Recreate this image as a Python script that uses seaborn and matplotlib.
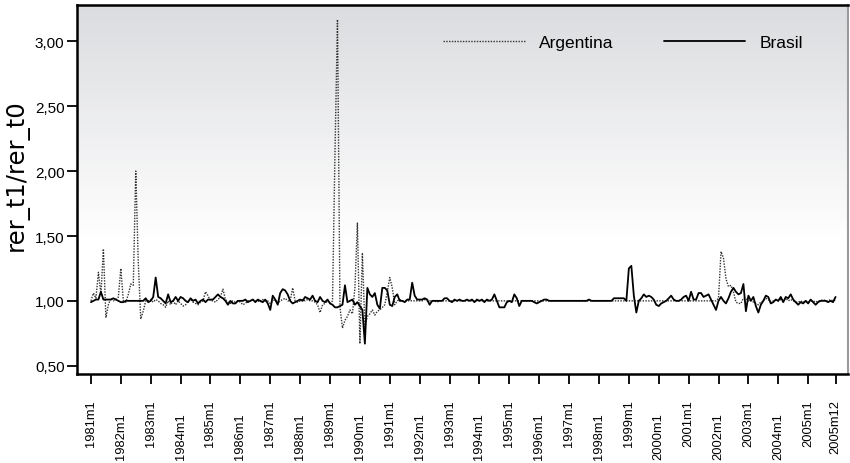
import numpy as np
import pandas as pd
import matplotlib
matplotlib.use("Agg")
import matplotlib.pyplot as plt
from matplotlib.transforms import ScaledTranslation
from matplotlib.ticker import FuncFormatter
from matplotlib.lines import Line2D
import seaborn as sns

# Monthly ratio of the real exchange rate (t1 over t0), 1981m1 .. 2005m12
years = list(range(1981, 2006))

argentina = [
    1.00, 1.06, 1.02, 1.22, 1.05, 1.40, 0.87, 0.97, 1.02, 1.00, 1.01, 1.03,  # 1981
    1.25, 1.00, 0.99, 1.05, 1.13, 1.12, 2.00, 1.30, 0.86, 0.92, 1.00, 1.00,  # 1982
    1.01, 0.99, 1.01, 1.00, 0.98, 0.97, 0.95, 1.00, 0.97, 1.00, 0.97, 1.00,  # 1983
    0.98, 0.96, 0.97, 1.00, 1.01, 0.99, 0.98, 0.97, 0.99, 1.00, 1.07, 1.04,  # 1984
    1.00, 1.00, 0.99, 1.01, 1.03, 1.09, 1.01, 0.99, 0.98, 1.00, 0.99, 1.00,  # 1985
    0.99, 0.97, 0.98, 1.00, 1.00, 1.01, 1.00, 1.00, 0.99, 1.01, 1.00, 1.00,  # 1986
    0.98, 1.00, 1.01, 0.98, 1.00, 1.01, 1.02, 1.00, 1.00, 1.10, 1.00, 0.99,  # 1987
    1.00, 1.01, 1.00, 1.01, 1.00, 1.00, 0.99, 0.97, 0.91, 0.97, 0.98, 1.00,  # 1988
    0.98, 1.00, 2.15, 3.17, 0.95, 0.79, 0.85, 0.88, 0.93, 0.90, 1.10, 1.60,  # 1989
    0.67, 1.37, 0.80, 0.88, 0.90, 0.93, 0.89, 0.92, 0.93, 0.95, 0.97, 1.07,  # 1990
    1.18, 1.10, 0.97, 1.00, 1.01, 1.00, 1.00, 1.00, 1.00, 1.00, 1.00, 1.00,  # 1991
    1.00, 1.00, 1.01, 1.00, 1.00, 1.00, 1.00, 0.99, 1.00, 1.00, 1.00, 1.00,  # 1992
    1.00, 1.00, 1.00, 1.00, 1.00, 1.00, 1.00, 1.00, 1.00, 1.00, 1.00, 1.00,  # 1993
    1.00, 1.00, 1.00, 1.00, 1.00, 1.00, 1.00, 1.00, 1.00, 1.00, 1.00, 1.00,  # 1994
    1.00, 1.00, 1.00, 1.00, 1.00, 1.00, 1.00, 1.00, 1.00, 1.00, 1.00, 1.00,  # 1995
    1.00, 1.00, 1.00, 1.00, 1.00, 1.00, 1.00, 1.00, 1.00, 1.00, 1.00, 1.00,  # 1996
    1.00, 1.00, 1.00, 1.00, 1.00, 1.00, 1.00, 1.00, 1.00, 1.00, 1.00, 1.00,  # 1997
    1.00, 1.00, 1.00, 1.00, 1.00, 1.00, 1.00, 1.00, 1.00, 1.00, 1.00, 1.00,  # 1998
    1.00, 1.00, 1.00, 1.00, 1.00, 1.00, 1.00, 1.00, 1.00, 1.00, 1.00, 1.00,  # 1999
    1.00, 1.00, 1.00, 1.00, 1.00, 1.00, 1.00, 1.00, 1.00, 1.00, 1.00, 1.00,  # 2000
    1.00, 1.00, 1.00, 1.00, 1.00, 1.00, 1.00, 1.00, 1.00, 1.00, 1.00, 1.00,  # 2001
    1.02, 1.38, 1.33, 1.17, 1.11, 1.12, 1.07, 0.99, 0.98, 0.98, 1.02, 1.02,  # 2002
    1.00, 1.01, 0.99, 0.98, 0.97, 0.99, 1.00, 1.02, 1.01, 0.99, 1.00, 1.01,  # 2003
    1.00, 1.01, 1.00, 1.02, 1.00, 1.01, 1.00, 0.99, 0.99, 1.00, 0.99, 1.00,  # 2004
    0.99, 1.00, 1.00, 0.99, 1.00, 1.00, 1.01, 1.00, 1.00, 1.01, 1.00, 1.01,  # 2005
]

brasil = [
    0.99, 1.00, 1.01, 1.01, 1.07, 1.01, 1.01, 1.01, 1.01, 1.02, 1.01, 1.00,  # 1981
    0.99, 0.99, 1.00, 1.00, 1.00, 1.00, 1.00, 1.00, 1.00, 1.00, 1.02, 0.99,  # 1982
    1.00, 1.03, 1.18, 1.03, 1.02, 1.00, 0.98, 1.05, 0.99, 1.00, 1.03, 1.00,  # 1983
    1.03, 1.02, 1.00, 0.99, 1.02, 1.00, 1.01, 0.98, 1.00, 1.01, 0.99, 1.01,  # 1984
    1.01, 1.01, 1.03, 1.05, 1.03, 1.02, 1.00, 0.97, 1.00, 0.98, 0.98, 1.00,  # 1985
    1.00, 1.00, 1.01, 0.99, 1.00, 1.01, 0.99, 1.01, 1.00, 0.99, 1.01, 0.98,  # 1986
    0.93, 1.04, 1.01, 0.97, 1.06, 1.09, 1.08, 1.05, 1.00, 0.98, 0.99, 1.00,  # 1987
    1.01, 1.00, 1.03, 1.02, 1.01, 1.04, 1.00, 0.99, 1.03, 1.00, 0.99, 1.01,  # 1988
    0.98, 0.97, 0.95, 0.95, 0.96, 0.97, 1.12, 0.99, 1.00, 1.01, 0.97, 0.99,  # 1989
    0.96, 0.93, 0.67, 1.10, 1.05, 1.03, 1.06, 0.97, 0.94, 1.10, 1.10, 1.08,  # 1990
    0.97, 0.96, 1.03, 1.05, 1.00, 1.00, 0.99, 1.01, 1.01, 1.14, 1.04, 1.01,  # 1991
    1.01, 1.01, 1.02, 1.01, 0.97, 1.00, 1.00, 1.00, 1.00, 1.00, 1.02, 1.02,  # 1992
    1.00, 0.99, 1.01, 1.00, 1.01, 1.00, 1.00, 1.01, 1.00, 1.01, 0.99, 1.01,  # 1993
    1.00, 1.01, 0.99, 1.01, 1.00, 1.01, 1.05, 1.00, 0.95, 0.95, 0.95, 0.99,  # 1994
    1.00, 0.99, 1.05, 1.02, 0.96, 1.00, 1.00, 1.00, 1.00, 1.00, 0.99, 0.98,  # 1995
    0.99, 1.00, 1.01, 1.01, 1.00, 1.00, 1.00, 1.00, 1.00, 1.00, 1.00, 1.00,  # 1996
    1.00, 1.00, 1.00, 1.00, 1.00, 1.00, 1.00, 1.00, 1.01, 1.00, 1.00, 1.00,  # 1997
    1.00, 1.00, 1.00, 1.00, 1.00, 1.00, 1.02, 1.02, 1.02, 1.02, 1.02, 1.00,  # 1998
    1.25, 1.27, 1.04, 0.91, 1.00, 1.02, 1.05, 1.03, 1.04, 1.03, 1.01, 0.97,  # 1999
    0.96, 0.98, 0.99, 1.00, 1.02, 1.04, 1.01, 1.00, 1.00, 1.01, 1.03, 1.04,  # 2000
    1.00, 1.07, 1.01, 1.01, 1.06, 1.06, 1.03, 1.04, 1.05, 1.01, 0.97, 0.93,  # 2001
    1.00, 1.03, 1.00, 0.98, 1.02, 1.07, 1.10, 1.07, 1.05, 1.06, 1.13, 0.92,  # 2002
    1.04, 1.00, 1.03, 0.96, 0.91, 0.97, 1.00, 1.04, 1.03, 0.98, 0.99, 1.01,  # 2003
    1.00, 1.03, 0.99, 1.03, 1.02, 1.05, 1.01, 0.99, 0.97, 0.99, 0.98, 1.00,  # 2004
    0.98, 1.01, 0.99, 0.97, 0.99, 1.00, 1.00, 1.00, 0.99, 1.00, 0.99, 1.03,  # 2005
]

tick_pos = [12 * i for i in range(len(years))] + [299]
tick_labels = [f"{y}m1" for y in years] + ["2005m12"]
y_ticks = [0.5, 1.0, 1.5, 2.0, 2.5, 3.0]

month = np.arange(len(argentina))
df = pd.DataFrame({"t": np.concatenate([month, month]),
                   "rer": argentina + brasil,
                   "pais": ["Argentina"] * len(argentina) + ["Brasil"] * len(brasil)})

sns.set_theme(style="white")
plt.rcParams["font.family"] = ["Liberation Sans", "DejaVu Sans"]

fig = plt.figure(figsize=(8.5, 4.64), dpi=100)
ax = fig.add_axes([77 / 850, 1 - 375 / 464, (848 - 77) / 850, (375 - 5.5) / 464])

# vertical shading: light grey at the top fading to white
frac = np.linspace(0, 1, 400)
shade = np.clip((frac - 0.36) / 0.64, 0, 1)
top = np.array([219, 220, 223]) / 255.0
img = 1 - shade[:, None] * (1 - top[None, :])
ax.imshow(img[:, None, :], extent=[0, 1, 0, 1], transform=ax.transAxes,
          origin="lower", aspect="auto", zorder=0)

sns.lineplot(data=df, x="t", y="rer", hue="pais", style="pais",
             palette={"Argentina": "#333333", "Brasil": "#000000"},
             dashes={"Argentina": (1, 1), "Brasil": ""},
             size="pais", sizes={"Argentina": 1.0, "Brasil": 1.3},
             ax=ax, legend=False, zorder=2)

ax.set_xlim(-5.6, 304.0)
ax.set_ylim(0.436, 3.285)

ax.set_xticks(tick_pos)
ax.set_xticklabels(tick_labels, rotation=90, fontsize=9.3)
ax.set_yticks(y_ticks)
ax.yaxis.set_major_formatter(FuncFormatter(lambda v, p: f"{v:.2f}".replace(".", ",")))
ax.tick_params(axis="y", left=True, labelsize=11, length=7, width=1.3,
               color="black", pad=2, labelcolor="black")
ax.tick_params(axis="x", bottom=True, length=7, width=1.3, color="black",
               pad=11, labelcolor="black")
ax.set_xlabel("")
ax.set_ylabel("rer_t1/rer_t0", fontsize=17.5, color="black", family="DejaVu Sans")
ax.yaxis.set_label_coords(-0.062, 0.54)

# stagger every second date label downwards (the closing month stays up)
fig.canvas.draw()
shift = ScaledTranslation(0, -13 / 100, fig.dpi_scale_trans)
labels = ax.get_xticklabels()
for i, lab in enumerate(labels[:-1]):
    if i % 2 == 1:
        lab.set_transform(lab.get_transform() + shift)

for side in ["left", "bottom", "top"]:
    ax.spines[side].set_color("black")
    ax.spines[side].set_linewidth(1.8)
ax.spines["right"].set_color("#9a9a9a")
ax.spines["right"].set_linewidth(1.5)

# legend across the top
handles = [Line2D([], [], color="#333333", lw=1.0, dashes=(1, 1)),
           Line2D([], [], color="#000000", lw=1.3)]
ax.legend(handles, ["Argentina", "Brasil"], ncol=2, frameon=False,
          loc="upper left", bbox_to_anchor=(0.455, 0.96), fontsize=12.5,
          handlelength=4.7, handletextpad=0.8, columnspacing=2.9,
          labelcolor="black")

fig.savefig("out.png", dpi=100)
